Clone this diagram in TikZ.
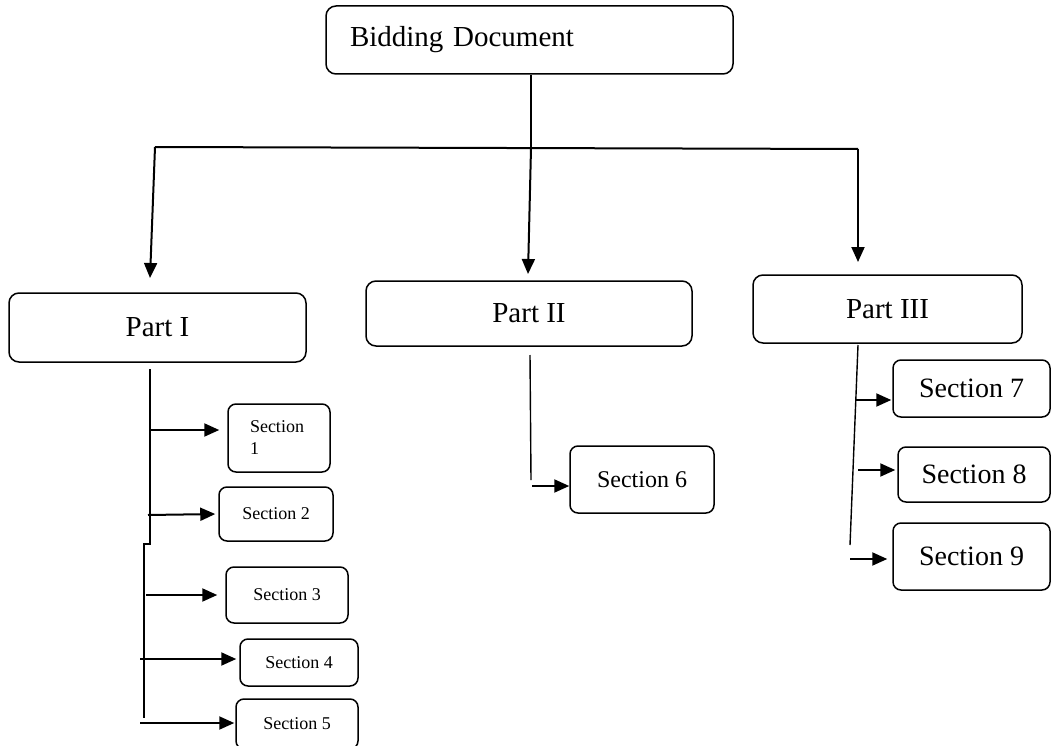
\documentclass[tikz,border=0pt]{standalone}
\usepackage{fontspec}
\setmainfont{Liberation Serif}
\usetikzlibrary{arrows.meta}
\begin{document}
\begin{tikzpicture}[x=1pt,y=-1pt,
  box/.style={draw, line width=1.5pt, rounded corners=10pt, inner sep=0pt, align=center},
  secbox/.style={box, rounded corners=8pt},
  big/.style={font=\fontsize{29}{34}\selectfont},
  mid/.style={font=\fontsize{24}{28}\selectfont},
  large/.style={font=\fontsize{28}{32}\selectfont},
  small/.style={font=\fontsize{18}{22}\selectfont},
  conn/.style={line width=2pt},
  thinconn/.style={line width=1.4pt},
  arr/.style={line width=2pt, -{Triangle[length=15pt,width=13pt]}}]
\useasboundingbox (0,0) rectangle (1051,746);

% main boxes
\node[box,big,minimum width=407pt,minimum height=68pt,text width=359pt,align=left,inner xsep=24pt] (doc) at (529.5,40) {Bidding Document};
\node[box,big,minimum width=297pt,minimum height=69pt] (p1) at (157.5,327.5) {Part I};
\node[box,big,minimum width=326pt,minimum height=65pt] (p2) at (529,313.5) {Part II};
\node[box,big,minimum width=269pt,minimum height=68pt] (p3) at (887.5,309) {Part III};

% sections
\node[secbox,small,minimum width=102pt,minimum height=68pt,text width=58pt,align=left,inner xsep=22pt] (s1) at (279,438) {Section\\1};
\node[secbox,small,minimum width=114pt,minimum height=54pt] (s2) at (276,514) {Section 2};
\node[secbox,small,minimum width=122pt,minimum height=56pt] (s3) at (287,595) {Section 3};
\node[secbox,small,minimum width=118pt,minimum height=47pt] (s4) at (299,662.5) {Section 4};
\node[secbox,small,minimum width=122pt,minimum height=50pt] (s5) at (297,724) {Section 5};
\node[secbox,mid,minimum width=144pt,minimum height=67pt] (s6) at (642,479.5) {Section 6};
\node[secbox,large,minimum width=157pt,minimum height=57pt] (s7) at (971.5,388.5) {Section 7};
\node[secbox,large,minimum width=152pt,minimum height=55pt] (s8) at (974,474.5) {Section 8};
\node[secbox,large,minimum width=157pt,minimum height=67pt] (s9) at (971.5,556.5) {Section 9};

% top distribution
\coordinate (hub) at (531,148);
\coordinate (hl) at (155,147);
\coordinate (hr) at (858,149);
\coordinate (t1) at (150,278);
\coordinate (t2) at (528,274);
\coordinate (t3) at (858,262);
\draw[conn] (doc.south -| hub) -- (hub);
\draw[conn] (hl) -- (hr);
\draw[arr] (hl) -- (t1);
\draw[arr] (hub) -- (t2);
\draw[arr] (hr) -- (t3);

% Part I branch
\coordinate (pa) at (150,369);
\coordinate (pb) at (150,544);
\coordinate (pc) at (144,544);
\coordinate (pd) at (144,718);
\draw[conn] (pa) -- (pb) -- (pc) -- (pd);
\coordinate (b1) at (150,430);
\coordinate (b2) at (148,515);
\coordinate (b3) at (146,595);
\coordinate (b4) at (140,659);
\coordinate (b5) at (140,723);
\draw[arr,shorten >=8pt] (b1) -- (s1.west |- b1);
\draw[arr,shorten >=3pt] (b2) -- (s2.west);
\draw[arr,shorten >=8pt] (b3) -- (s3.west |- b3);
\draw[arr,shorten >=3pt] (b4) -- (s4.west |- b4);
\draw[arr,shorten >=1pt] (b5) -- (s5.west |- b5);

% Part II branch
\coordinate (c1) at (530,355);
\coordinate (c2) at (531,480);
\coordinate (c3) at (532,486);
\draw[thinconn] (c1) -- (c2);
\draw[arr] (c3) -- (s6.west |- c3);

% Part III branch
\coordinate (d1) at (858,345);
\coordinate (d2) at (850,545);
\coordinate (e7) at (855,400);
\coordinate (e8) at (858,470);
\coordinate (e9) at (850,559);
\draw[thinconn] (d1) -- (d2);
\draw[arr,shorten >=1pt] (e7) -- (s7.west |- e7);
\draw[arr,shorten >=2pt] (e8) -- (s8.west |- e8);
\draw[arr,shorten >=5pt] (e9) -- (s9.west |- e9);
\end{tikzpicture}
\end{document}
